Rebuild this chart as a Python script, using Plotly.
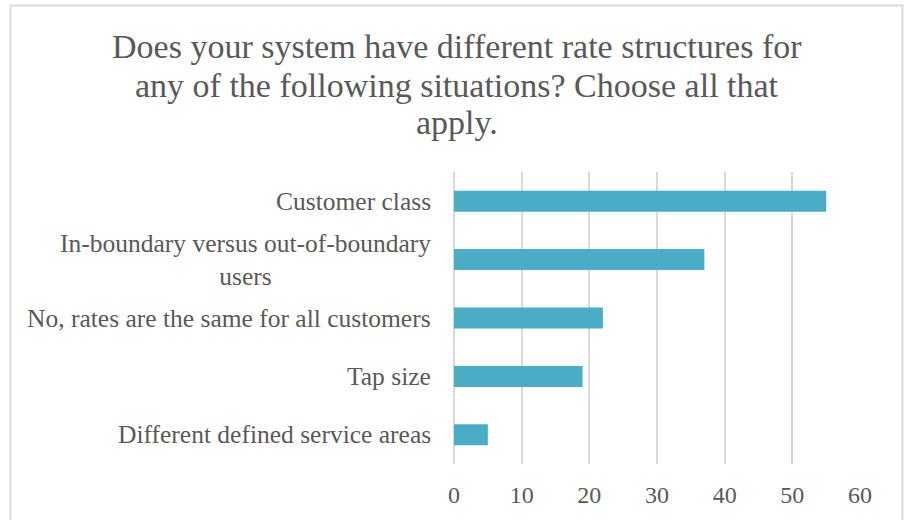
import plotly.graph_objects as go

# Survey responses: rate structure situations (choose all that apply)
categories = [
    "Customer class",
    "In-boundary versus out-of-boundary<br>users",
    "No, rates are the same for all customers",
    "Tap size",
    "Different defined service areas",
]
counts = [55, 37, 22, 19, 5]
x_ticks = [0, 10, 20, 30, 40, 50, 60]
title_lines = [
    "Does your system have different rate structures for",
    "any of the following situations? Choose all that",
    "apply.",
]

W, H = 904, 520
L, R, T, B = 454, 44, 172, 56
PW, PH = W - L - R, H - T - B

TEXT = "#595959"
GRID = "#D9D9D9"
BAR = "#4BACC6"
SERIF = "Liberation Serif"


def px_x(px):
    return (px - L) / PW


def px_y(py):
    return (H - B - py) / PH


fig = go.Figure(
    go.Bar(
        x=counts,
        y=categories,
        orientation="h",
        marker=dict(color=BAR, line=dict(width=0)),
        hoverinfo="x+y",
    )
)

annotations = []
# chart title, one annotation per line
for line, cy in zip(title_lines, [47, 85, 122]):
    annotations.append(dict(
        text=line, xref="paper", yref="paper", x=px_x(456.5), y=px_y(cy),
        xanchor="center", yanchor="middle", showarrow=False,
        font=dict(family=SERIF, size=34, color=TEXT),
    ))
# category labels, centred lines and right-aligned block
for cat in categories:
    annotations.append(dict(
        text=cat, xref="paper", yref="y", x=px_x(433), y=cat,
        xanchor="right", yanchor="middle", align="center", showarrow=False,
        font=dict(family=SERIF, size=25.5, color=TEXT),
    ))

fig.update_layout(
    width=W, height=H,
    margin=dict(l=L, r=R, t=T, b=B, pad=0),
    paper_bgcolor="white",
    plot_bgcolor="white",
    showlegend=False,
    bargap=0.64,
    xaxis=dict(
        range=[0, 60], tickvals=x_ticks, ticktext=[str(v) for v in x_ticks],
        showgrid=True, gridcolor=GRID, gridwidth=1.5,
        zeroline=True, zerolinecolor=GRID, zerolinewidth=1.5,
        showline=False, ticks="", ticklabelstandoff=14,
        tickfont=dict(family=SERIF, size=24, color=TEXT),
        fixedrange=True,
    ),
    yaxis=dict(
        categoryorder="array", categoryarray=categories[::-1],
        showticklabels=False, showgrid=False, zeroline=False, showline=False,
        fixedrange=True,
    ),
    annotations=annotations,
    shapes=[dict(
        type="rect", xref="paper", yref="paper",
        x0=px_x(10.5), x1=px_x(902.5), y0=px_y(540), y1=px_y(5.5),
        line=dict(color=GRID, width=2), fillcolor="rgba(0,0,0,0)", layer="below",
    )],
)

fig.write_html("out.html")
